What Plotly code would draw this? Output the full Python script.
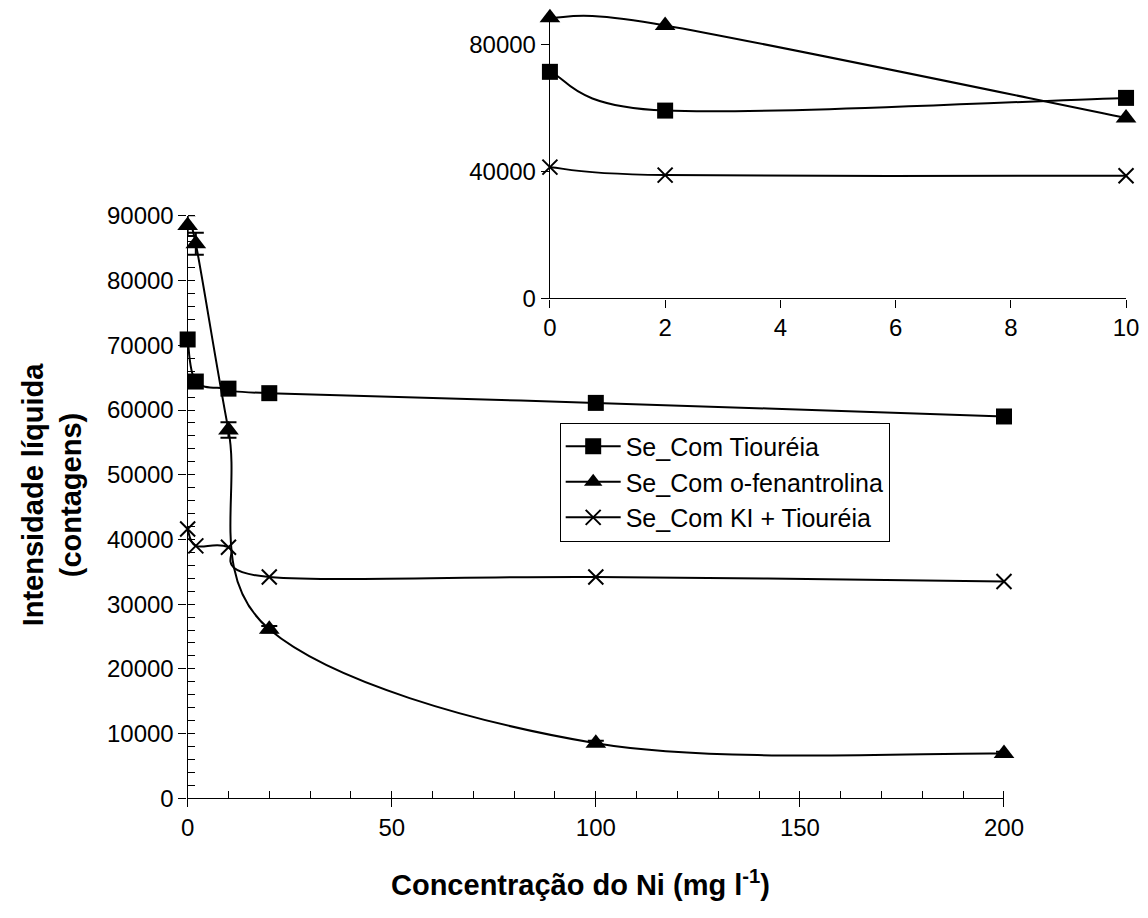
import plotly.graph_objects as go

# Main chart data: Ni concentration (mg/l) vs net intensity (counts)
conc = [0, 2, 10, 20, 100, 200]
tioureia = [70900, 64400, 63300, 62600, 61100, 59000]
fenantrolina = [88500, 85700, 56900, 26100, 8500, 6900]
fenantrolina_err = [1600, 1700, 1200, 500, 400, 300]
ki_tioureia = [41600, 39000, 38800, 34200, 34200, 33500]

# Inset data (low-concentration range)
conc_inset = [0, 2, 10]
tioureia_inset = [71300, 59100, 63100]
fenantrolina_inset = [88300, 85900, 56800]
ki_tioureia_inset = [41300, 38800, 38600]

series_names = ["Se_Com Tiouréia", "Se_Com o-fenantrolina", "Se_Com KI + Tiouréia"]
symbols = ["square", "triangle-up", "x-thin-open"]

W, H = 1148, 918
FONT = "Liberation Sans, Arial, sans-serif"
TICK_SIZE = 24


def px_x(p):
    return p / W


def px_y(p):
    return 1 - p / H


def smooth_path(xs, ys):
    """Cubic Bezier path through the points (spreadsheet-style smoothed line)."""
    n = len(xs)
    parts = [f"M {xs[0]},{ys[0]}"]
    for i in range(n - 1):
        p0 = (xs[max(i - 1, 0)], ys[max(i - 1, 0)])
        p1 = (xs[i], ys[i])
        p2 = (xs[i + 1], ys[i + 1])
        p3 = (xs[min(i + 2, n - 1)], ys[min(i + 2, n - 1)])
        c1 = (p1[0] + (p2[0] - p0[0]) / 6, p1[1] + (p2[1] - p0[1]) / 6)
        c2 = (p2[0] - (p3[0] - p1[0]) / 6, p2[1] - (p3[1] - p1[1]) / 6)
        parts.append(f"C {c1[0]},{c1[1]} {c2[0]},{c2[1]} {p2[0]},{p2[1]}")
    return " ".join(parts)


def marker(sym):
    if sym == "x-thin-open":
        return dict(symbol=sym, size=15, color="black", line=dict(color="black", width=2))
    return dict(symbol=sym, size=16 if sym == "square" else 18, color="black",
                line=dict(color="black", width=0))


fig = go.Figure()

main_series = [tioureia, fenantrolina, ki_tioureia]
inset_series = [tioureia_inset, fenantrolina_inset, ki_tioureia_inset]

# smoothed connecting lines
for ys in main_series:
    fig.add_shape(type="path", path=smooth_path(conc, ys), xref="x", yref="y",
                  line=dict(color="black", width=2), layer="below")
for ys in inset_series:
    fig.add_shape(type="path", path=smooth_path(conc_inset, ys), xref="x2", yref="y2",
                  line=dict(color="black", width=2), layer="below")

# main plot markers
for i, (ys, sym) in enumerate(zip(main_series, symbols)):
    err = None
    if i == 1:
        err = dict(type="data", array=fenantrolina_err, color="black", thickness=2, width=8)
    fig.add_trace(go.Scatter(x=conc, y=ys, mode="markers", marker=marker(sym),
                             error_y=err, showlegend=False, xaxis="x", yaxis="y",
                             cliponaxis=False))

# inset markers
for ys, sym in zip(inset_series, symbols):
    fig.add_trace(go.Scatter(x=conc_inset, y=ys, mode="markers", marker=marker(sym),
                             showlegend=False, xaxis="x2", yaxis="y2", cliponaxis=False))

# legend entries
for name, sym in zip(series_names, symbols):
    fig.add_trace(go.Scatter(x=[None], y=[None], name=name, mode="lines+markers",
                             line=dict(color="black", width=2), marker=marker(sym),
                             xaxis="x", yaxis="y"))

tickfont = dict(family=FONT, size=TICK_SIZE, color="black")
axis_common = dict(showline=True, linecolor="black", linewidth=1.3, showgrid=False,
                   zeroline=False, tickfont=tickfont, fixedrange=True, ticks="outside",
                   ticklen=8, tickwidth=1.3, tickcolor="black", tickformat="d")

fig.update_layout(
    width=W, height=H,
    margin=dict(l=0, r=0, t=0, b=0),
    paper_bgcolor="white", plot_bgcolor="white",
    showlegend=True,
    legend=dict(x=px_x(566), y=px_y(421), xanchor="left", yanchor="top",
                bordercolor="black", borderwidth=1, bgcolor="white",
                font=dict(family=FONT, size=25, color="black"),
                tracegroupgap=0, itemwidth=55),
    xaxis=dict(domain=[px_x(185), px_x(1021)], range=[0, 200], tickmode="linear",
               tick0=0, dtick=50,
               minor=dict(dtick=10, ticks="inside", ticklen=7, tickwidth=1.3, tickcolor="black"),
               **axis_common),
    yaxis=dict(domain=[px_y(808), px_y(208)], range=[0, 90000], tickmode="linear",
               tick0=0, dtick=10000,
               minor=dict(dtick=2000, ticks="inside", ticklen=7, tickwidth=1.3, tickcolor="black"),
               **axis_common),
    xaxis2=dict(domain=[px_x(556), px_x(1146)], range=[0, 10], tickmode="linear",
                tick0=0, dtick=2, anchor="y2", **axis_common),
    yaxis2=dict(domain=[px_y(293), 1.0], range=[0, 89500], tickmode="array",
                tickvals=[0, 40000, 80000], anchor="x2", **axis_common),
)

fig.add_annotation(text="<b>Concentração do Ni (mg l<sup>-1</sup>)</b>", xref="paper", yref="paper",
                   x=px_x(587), y=px_y(895), xanchor="center", yanchor="middle",
                   showarrow=False, font=dict(family=FONT, size=29, color="black"))
fig.add_annotation(text="<b>Intensidade líquida<br>(contagens)</b>", xref="paper", yref="paper",
                   x=px_x(47), y=px_y(495), xanchor="center", yanchor="middle",
                   showarrow=False, textangle=-90,
                   font=dict(family=FONT, size=29, color="black"))

fig.write_html("out.html")
